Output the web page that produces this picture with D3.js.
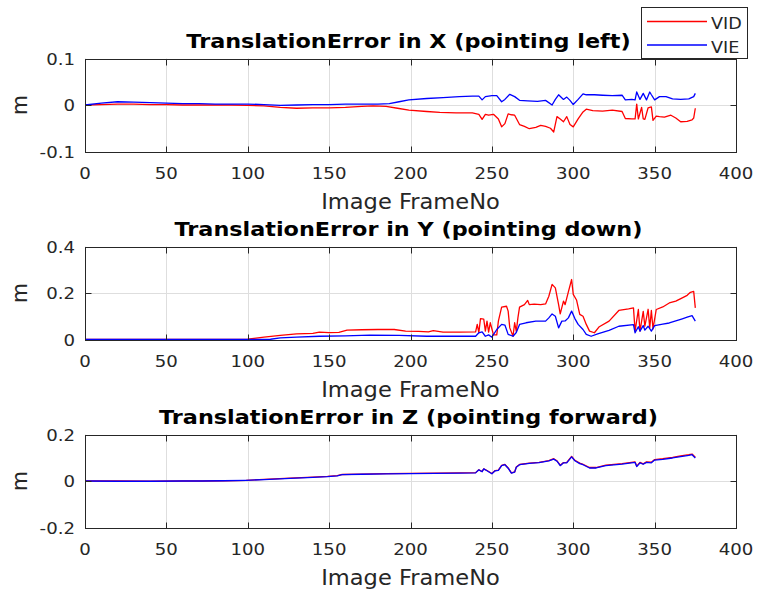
<!DOCTYPE html>
<html>
<head>
<meta charset="utf-8">
<script src="https://cdn.jsdelivr.net/npm/d3@7"></script>
<style>
  body { margin: 0; background: #fff; }
  svg { display: block; }
  text { font-family: "DejaVu Sans", sans-serif; }
</style>
</head>
<body>
<svg id="chart" width="758" height="595"></svg>
<script>
// ---- Shared axis values ----
const xTicks = [0, 50, 100, 150, 200, 250, 300, 350, 400];
const xTickLabels = ["0", "50", "100", "150", "200", "250", "300", "350", "400"];
const seriesNames = ["VID", "VIE"];
const titles = [
  "TranslationError in X (pointing left)",
  "TranslationError in Y (pointing down)",
  "TranslationError in Z (pointing forward)"
];
const yDomainX = [-0.1, 0.1], yTicksX = [-0.1, 0, 0.1], yTickLabelsX = ["-0.1", "0", "0.1"];
const yDomainY = [0, 0.4],   yTicksY = [0, 0.2, 0.4],  yTickLabelsY = ["0", "0.2", "0.4"];
const yDomainZ = [-0.2, 0.2], yTicksZ = [-0.2, 0, 0.2], yTickLabelsZ = ["-0.2", "0", "0.2"];

// ---- X error (m) ----
const framesVidX = [0,10,20,30,40,50,60,70,80,90,100,110,120,130,140,150,160,170,177,185,192,199,210,218,228,238,242,244,246,248,251,254,256,258,260,262,264,267,270,273,277,280,283,286,288,290,292,294,296,298,300,303,306,308,312,318,324,330,332,336,338,339,340,342,343,344,346,348,349,351,353,356,360,363,366,370,373,374,375];
const vidX = [0,0.001,0.002,0.002,0.001,0.001,0,0,0,0,-0.001,-0.002,-0.005,-0.007,-0.006,-0.006,-0.005,-0.003,-0.002,-0.003,-0.007,-0.011,-0.014,-0.016,-0.017,-0.017,-0.02,-0.031,-0.02,-0.022,-0.02,-0.03,-0.047,-0.04,-0.019,-0.021,-0.022,-0.042,-0.046,-0.051,-0.048,-0.044,-0.046,-0.05,-0.058,-0.025,-0.03,-0.036,-0.025,-0.042,-0.047,-0.03,-0.015,-0.009,-0.012,-0.013,-0.011,-0.014,-0.029,-0.03,-0.03,0.002,-0.03,-0.005,-0.03,-0.031,-0.006,-0.004,-0.033,-0.024,-0.025,-0.026,-0.022,-0.028,-0.036,-0.035,-0.032,-0.028,-0.007];
const framesVieX = [0,10,20,30,40,50,60,70,80,90,100,110,120,130,140,150,160,170,180,187,193,199,210,220,230,238,242,244,246,250,253,256,258,261,264,267,272,278,283,287,289,291,294,296,298,300,303,306,308,313,318,324,330,332,336,338,339,341,343,345,347,348,350,353,357,361,366,371,374,375];
const vieX = [0,0.004,0.007,0.006,0.005,0.004,0.003,0.003,0.002,0.002,0.002,0.001,-0.001,0,0.001,0.001,0.002,0.002,0.002,0.003,0.007,0.011,0.014,0.016,0.018,0.019,0.019,0.011,0.018,0.02,0.02,0.007,0.012,0.023,0.018,0.01,0.009,0.008,0.01,0,0.012,0.022,0.012,0.017,0.01,0.001,0.012,0.024,0.022,0.022,0.021,0.02,0.021,0.011,0.012,0.011,0.028,0.012,0.025,0.011,0.028,0.022,0.011,0.018,0.018,0.013,0.012,0.013,0.018,0.025];

// ---- Y error (m) ----
const framesVidY = [0,20,40,60,80,95,100,110,120,130,140,144,150,156,161,170,180,190,197,205,211,214,220,230,240,241,242,243,245,246,247,248,249,251,253,254,256,259,260,261,263,264,265,266,267,270,272,273,276,280,283,285,287,289,291,292,294,295,297,299,300,302,304,306,308,310,313,316,322,328,334,337,338,340,341,343,344,346,347,348,349,351,355,359,363,367,370,372,374,375];
const vidY = [0,0,0,0,0,0,0.002,0.01,0.018,0.024,0.026,0.032,0.03,0.031,0.04,0.042,0.043,0.043,0.036,0.035,0.033,0.038,0.032,0.032,0.033,0.065,0.03,0.09,0.088,0.036,0.079,0.032,0.072,0.02,0.02,0.079,0.139,0.143,0.122,0.05,0.014,0.072,0.035,0.093,0.139,0.15,0.168,0.15,0.152,0.15,0.153,0.186,0.237,0.222,0.15,0.11,0.165,0.15,0.205,0.258,0.194,0.17,0.108,0.1,0.065,0.036,0.029,0.055,0.079,0.125,0.132,0.136,0.036,0.129,0.036,0.121,0.057,0.13,0.05,0.125,0.046,0.129,0.14,0.157,0.165,0.179,0.19,0.203,0.207,0.136];
const framesVieY = [0,50,100,110,114,120,130,144,160,175,193,210,230,240,242,244,246,248,250,253,256,258,260,263,265,267,271,277,283,285,287,289,291,293,295,297,299,301,303,306,308,311,315,322,328,337,338,340,341,343,344,346,348,350,355,359,363,367,370,373,375];
const vieY = [0,0,0,0,0.001,0.007,0.01,0.014,0.016,0.019,0.018,0.014,0.014,0.014,0.029,0.033,0.014,0.02,0.01,0.043,0.065,0.062,0.022,0.014,0.03,0.065,0.072,0.079,0.079,0.093,0.11,0.1,0.05,0.079,0.08,0.093,0.122,0.09,0.065,0.043,0.022,0.014,0.024,0.039,0.057,0.064,0.029,0.055,0.036,0.06,0.04,0.057,0.036,0.06,0.066,0.071,0.08,0.089,0.096,0.103,0.079];

// ---- Z error (m) ----
const framesZ = [0,20,40,60,72,85,99,110,126,140,149,155,158,170,185,200,215,230,240,242,244,245,247,250,252,254,256,258,260,262,264,265,267,273,279,285,288,290,292,294,296,299,301,304,306,310,314,320,330,338,339,341,343,345,348,350,355,361,366,371,373,375];
const vidZ = [0,0,-0.001,0,0,0.001,0.003,0.007,0.012,0.017,0.02,0.023,0.028,0.03,0.032,0.033,0.034,0.035,0.036,0.048,0.041,0.052,0.045,0.032,0.045,0.047,0.067,0.071,0.056,0.035,0.039,0.06,0.071,0.077,0.08,0.088,0.096,0.087,0.068,0.079,0.08,0.106,0.089,0.077,0.072,0.058,0.058,0.068,0.075,0.082,0.064,0.08,0.074,0.082,0.081,0.092,0.096,0.102,0.108,0.113,0.116,0.102];
const vieZ = [0,-0.001,-0.001,0,0,0.001,0.003,0.006,0.011,0.016,0.019,0.022,0.027,0.029,0.031,0.032,0.033,0.034,0.035,0.048,0.04,0.052,0.044,0.031,0.044,0.046,0.066,0.07,0.055,0.034,0.038,0.059,0.07,0.076,0.079,0.087,0.094,0.085,0.066,0.078,0.078,0.104,0.087,0.075,0.07,0.056,0.056,0.066,0.073,0.08,0.062,0.078,0.072,0.08,0.078,0.09,0.093,0.099,0.105,0.11,0.113,0.099];

// ---- Panel table built from the arrays above ----
const panels = [
  { title: titles[0], yDomain: yDomainX, yTicks: yTicksX, yLabels: yTickLabelsX,
    series: [{ frames: framesVidX, values: vidX }, { frames: framesVieX, values: vieX }] },
  { title: titles[1], yDomain: yDomainY, yTicks: yTicksY, yLabels: yTickLabelsY,
    series: [{ frames: framesVidY, values: vidY }, { frames: framesVieY, values: vieY }] },
  { title: titles[2], yDomain: yDomainZ, yTicks: yTicksZ, yLabels: yTickLabelsZ,
    series: [{ frames: framesZ, values: vidZ }, { frames: framesZ, values: vieZ }] }
];

// ---- Layout & style ----
const plotLeft = 85, plotRight = 736;
const plotTops = [58.5, 246.5, 434.5];
const plotH = 93;
const tickLen = 6;
const SX = 1.1;               // horizontal glyph stretch
const axisColor = "#262626";
const gridColor = "#dedede";
const colors = ["#ff0000", "#0000ff"];

const svg = d3.select("#chart");
const x = d3.scaleLinear().domain([0, 400]).range([plotLeft, plotRight]);
const crisp = v => Math.round(v) + 0.5;

function label(g, px, py, str, size, anchor, weight, fill) {
  return g.append("text")
    .attr("transform", `translate(${px},${py}) scale(${SX},1)`)
    .attr("text-anchor", anchor)
    .attr("font-size", size)
    .attr("font-weight", weight || "normal")
    .attr("fill", fill || axisColor)
    .text(str);
}

panels.forEach((p, i) => {
  const top = plotTops[i], bottom = top + plotH;
  const y = d3.scaleLinear().domain(p.yDomain).range([bottom, top]);
  const g = svg.append("g");

  // grid
  g.append("g").selectAll("line").data(xTicks).join("line")
    .attr("x1", d => crisp(x(d))).attr("x2", d => crisp(x(d)))
    .attr("y1", top).attr("y2", bottom)
    .attr("stroke", gridColor).attr("stroke-width", 1);
  g.append("g").selectAll("line").data(p.yTicks).join("line")
    .attr("x1", plotLeft).attr("x2", plotRight)
    .attr("y1", d => crisp(y(d))).attr("y2", d => crisp(y(d)))
    .attr("stroke", gridColor).attr("stroke-width", 1);

  // series
  const line = d3.line().x(d => x(d[0])).y(d => y(d[1]));
  p.series.forEach((s, k) => {
    g.append("path")
      .datum(d3.zip(s.frames, s.values))
      .attr("d", line)
      .attr("fill", "none")
      .attr("stroke", colors[k])
      .attr("stroke-width", 1.3)
      .attr("stroke-linejoin", "round");
  });

  // box
  g.append("rect")
    .attr("x", crisp(plotLeft)).attr("y", crisp(top))
    .attr("width", Math.round(plotRight) - Math.round(plotLeft))
    .attr("height", Math.round(bottom) - Math.round(top))
    .attr("fill", "none").attr("stroke", axisColor).attr("stroke-width", 1);

  // ticks (inward, all four sides)
  const yb = crisp(bottom), yt = crisp(top);
  g.append("g").selectAll("line").data(xTicks).join("line")
    .attr("x1", d => crisp(x(d))).attr("x2", d => crisp(x(d)))
    .attr("y1", yb).attr("y2", yb - tickLen).attr("stroke", axisColor);
  g.append("g").selectAll("line").data(xTicks).join("line")
    .attr("x1", d => crisp(x(d))).attr("x2", d => crisp(x(d)))
    .attr("y1", yt).attr("y2", yt + tickLen).attr("stroke", axisColor);
  g.append("g").selectAll("line").data(p.yTicks).join("line")
    .attr("x1", crisp(plotLeft)).attr("x2", crisp(plotLeft) + tickLen)
    .attr("y1", d => crisp(y(d))).attr("y2", d => crisp(y(d))).attr("stroke", axisColor);
  g.append("g").selectAll("line").data(p.yTicks).join("line")
    .attr("x1", crisp(plotRight)).attr("x2", crisp(plotRight) - tickLen)
    .attr("y1", d => crisp(y(d))).attr("y2", d => crisp(y(d))).attr("stroke", axisColor);

  // tick labels
  xTicks.forEach((t, j) => label(g, x(t), bottom + 27, xTickLabels[j], 16.5, "middle"));
  p.yTicks.forEach((t, j) => label(g, plotLeft - 10, y(t) + 6, p.yLabels[j], 16.5, "end"));

  // axis labels & title
  label(g, (plotLeft + plotRight) / 2, bottom + 57, "Image FrameNo", 20.5, "middle");
  g.append("text")
    .attr("transform", `translate(27,${(top + bottom) / 2}) rotate(-90)`)
    .attr("text-anchor", "middle")
    .attr("font-size", 20.5)
    .attr("fill", axisColor)
    .text("m");
  label(g, (plotLeft + plotRight) / 2 - 2, top - 11, p.title, 20.3, "middle", "bold", "#000");
});

// ---- Legend ----
const lg = svg.append("g");
lg.append("rect").attr("x", 641.5).attr("y", 7.5).attr("width", 106).attr("height", 51)
  .attr("fill", "#fff").attr("stroke", axisColor).attr("stroke-width", 1);
const legendY = [21.5, 45];
seriesNames.forEach((name, k) => {
  lg.append("line").attr("x1", 647).attr("x2", 707)
    .attr("y1", legendY[k]).attr("y2", legendY[k])
    .attr("stroke", colors[k]).attr("stroke-width", 1.3);
  label(lg, 711, legendY[k] + 7.5, name, 16, "start");
});
</script>
</body>
</html>
